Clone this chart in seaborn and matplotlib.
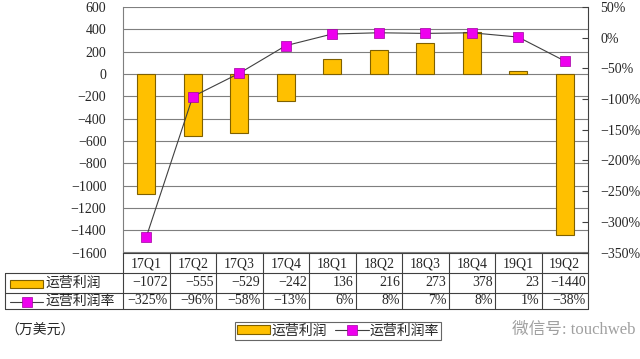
import numpy as np
import pandas as pd
import seaborn as sns
import matplotlib.pyplot as plt
from matplotlib.lines import Line2D
from matplotlib.patches import Patch, Rectangle

quarters = ["17Q1", "17Q2", "17Q3", "17Q4", "18Q1", "18Q2", "18Q3", "18Q4", "19Q1", "19Q2"]
profit = [-1072, -555, -529, -242, 136, 216, 273, 378, 23, -1440]
margin_pct = [-325, -96, -58, -13, 6, 8, 7, 8, 1, -38]

left_ticks = [600, 400, 200, 0, -200, -400, -600, -800, -1000, -1200, -1400, -1600]
right_ticks = [50, 0, -50, -100, -150, -200, -250, -300, -350]

df = pd.DataFrame({"quarter": quarters, "profit": profit,
                   "margin": np.array(margin_pct) / 100, "pos": np.arange(len(quarters))})

sns.set_style("white")
plt.rcParams["font.family"] = ["Liberation Serif", "Noto Sans CJK SC"]
plt.rcParams["axes.unicode_minus"] = True

BAR = "#FFC000"
BAR_EDGE = "#7F6000"
MAG = "#EE00EE"
LINE = "#404040"
GRID = "#7F7F7F"

fig = plt.figure(figsize=(6.4, 3.59), dpi=100)
W, H = 640, 359
ax_l, ax_r, ax_t, ax_b = 123, 588, 7, 252.5
ax = fig.add_axes([ax_l / W, 1 - ax_b / H, (ax_r - ax_l) / W, (ax_b - ax_t) / H])

sns.barplot(data=df, x="quarter", y="profit", ax=ax, color=BAR, saturation=1,
            edgecolor=BAR_EDGE, linewidth=0.8, width=0.38)
ax.set_xlim(-0.5, len(quarters) - 0.5)
ax.set_ylim(-1600, 600)
ax.set_yticks(left_ticks)
ax.set_yticklabels([str(v).replace("-", "\u2212") for v in left_ticks], fontsize=10)
ax.yaxis.grid(True, color=GRID, lw=0.8)
ax.set_axisbelow(True)
ax.tick_params(axis="x", length=0, labelbottom=False)
ax.tick_params(axis="y", length=0, pad=12)
ax.set_xlabel("")
ax.set_ylabel("")
for s in ["top", "right"]:
    ax.spines[s].set_visible(False)
ax.spines["left"].set_color(GRID)
ax.spines["bottom"].set_color(LINE)

ax2 = ax.twinx()
sns.lineplot(data=df, x="pos", y="margin", ax=ax2, color=LINE, lw=0.8)
sns.scatterplot(data=df, x="pos", y="margin", ax=ax2, marker="s", s=55,
                color=MAG, edgecolor="#A000A0", linewidth=0.5, zorder=5)
ax2.set_ylim(-3.5, 0.5)
ax2.set_yticks(np.array(right_ticks) / 100)
ax2.set_yticklabels([f"{v}%".replace("-", "\u2212") for v in right_ticks], fontsize=10)
ax2.tick_params(axis="y", direction="in", length=4, pad=9, color=LINE)
ax2.set_ylabel("")
ax2.set_xlabel("")
for s in ["top", "left", "bottom"]:
    ax2.spines[s].set_visible(False)
ax2.spines["right"].set_color(LINE)

# data table under the chart
tf = fig.transFigure
rows_y = [ax_b, 273, 292.5, 309]
edges = [ax_l + (ax_r - ax_l) * i / len(quarters) for i in range(len(quarters) + 1)]
lc = dict(color=LINE, lw=0.8, transform=tf)
for x in edges:
    fig.add_artist(Line2D([x / W] * 2, [1 - rows_y[0] / H, 1 - rows_y[3] / H], **lc))
fig.add_artist(Line2D([5 / W] * 2, [1 - rows_y[1] / H, 1 - rows_y[3] / H], **lc))
for y in rows_y[1:]:
    fig.add_artist(Line2D([5 / W, ax_r / W], [1 - y / H] * 2, **lc))

for i, q in enumerate(quarters):
    cx = (edges[i] + edges[i + 1]) / 2 / W
    fig.text(cx, 1 - 263.5 / H, q, ha="center", va="center", fontsize=10)
    fig.text((edges[i + 1] - 2) / W, 1 - 283 / H, str(profit[i]).replace("-", "\u2212"),
             ha="right", va="center", fontsize=10)
    fig.text((edges[i + 1] - 2) / W, 1 - 301 / H, f"{margin_pct[i]}%".replace("-", "\u2212"),
             ha="right", va="center", fontsize=10)

fig.add_artist(Rectangle((10 / W, 1 - 287.5 / H), 33 / W, 8 / H, facecolor=BAR,
                         edgecolor=BAR_EDGE, lw=0.8, transform=tf))
fig.text(45 / W, 1 - 283 / H, "运营利润", ha="left", va="center", fontsize=10)
fig.add_artist(Line2D([10 / W, 43 / W], [1 - 302 / H] * 2, color=LINE, lw=0.8, transform=tf))
fig.add_artist(Line2D([26.5 / W], [1 - 302 / H], marker="s", markersize=7, color=MAG,
                      markeredgecolor="#A000A0", markeredgewidth=0.5, transform=tf))
fig.text(45 / W, 1 - 301 / H, "运营利润率", ha="left", va="center", fontsize=10)

fig.text(5 / W, 1 - 331 / H, "（万美元）", ha="left", va="center", fontsize=10)

handles = [Patch(facecolor=BAR, edgecolor=BAR_EDGE, lw=0.8),
           Line2D([], [], color=LINE, lw=0.8, marker="s", markersize=7,
                  markerfacecolor=MAG, markeredgecolor="#A000A0", markeredgewidth=0.5)]
leg = fig.legend(handles, ["运营利润", "运营利润率"], loc="center",
                 bbox_to_anchor=(338 / W, 1 - 331 / H), ncol=2, frameon=True,
                 fancybox=False, edgecolor=LINE, fontsize=10, handlelength=2.4,
                 handleheight=0.6, columnspacing=0.6, handletextpad=0.1,
                 borderpad=0.15, borderaxespad=0)
leg.get_frame().set_linewidth(0.8)

fig.text(512 / W, 1 - 330 / H, "微信号: touchweb", ha="left", va="center",
         fontsize=12, color="#A0A0A0")

fig.savefig("out.png", dpi=100)
